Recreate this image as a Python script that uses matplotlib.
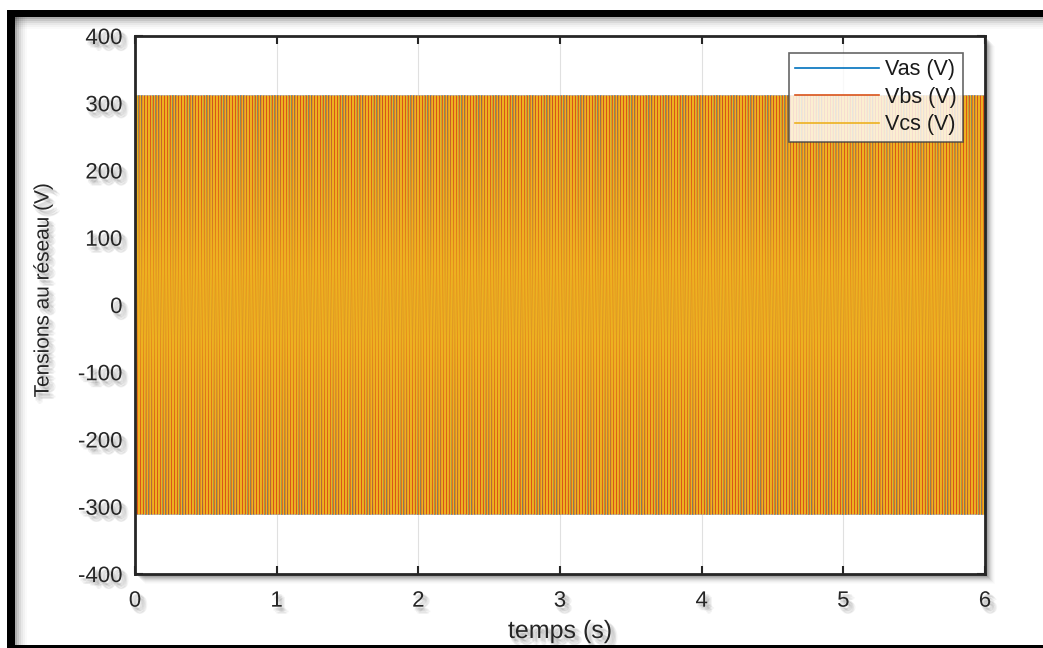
import numpy as np
import matplotlib
matplotlib.use("Agg")
import matplotlib.pyplot as plt
import matplotlib.patheffects as pe
from matplotlib.patches import Rectangle

# ---- data (three-phase grid voltages) ----
AMPLITUDE = 311.0          # V peak
FREQUENCY = 50.0           # Hz
T_END = 6.0                # s
T_STEP = 1e-4              # s
PHASES_DEG = [0.0, -120.0, 120.0]
SERIES_LABELS = ["Vas (V)", "Vbs (V)", "Vcs (V)"]
X_TICKS = [0, 1, 2, 3, 4, 5, 6]
Y_TICKS = [-400, -300, -200, -100, 0, 100, 200, 300, 400]
X_LABEL = "temps (s)"
Y_LABEL = "Tensions au réseau (V)"

COLORS = ["#0072BD", "#D95319", "#EDB120"]

plt.rcParams['font.family'] = ['Liberation Sans', 'DejaVu Sans']
plt.rcParams['axes.unicode_minus'] = False

W, H = 1043, 648
fig = plt.figure(figsize=(W / 100, H / 100), dpi=100)
fig.patch.set_facecolor("white")

def fx(px):
    return px / W

def fy(py):
    return 1 - py / H

# axes placement
ax_l, ax_r, ax_t, ax_b = 135, 985, 36, 574
AX_W, AX_H = ax_r - ax_l, ax_b - ax_t
ax = fig.add_axes([fx(ax_l), fy(ax_b), AX_W / W, AX_H / H])

# soft shadow behind axes
for i, a in enumerate([0.10, 0.09, 0.08, 0.07, 0.05, 0.04, 0.03, 0.02, 0.015]):
    off = 2 + i
    fig.patches.append(Rectangle((fx(ax_l + off), fy(ax_b + off)),
                                 AX_W / W, AX_H / H,
                                 transform=fig.transFigure, facecolor="black",
                                 edgecolor="none", alpha=a, zorder=-5))

# outer black frame (top, left, bottom) with soft shadow
for i, a in enumerate([0.12, 0.09, 0.06, 0.04, 0.03, 0.02]):
    off = 2 + 2 * i
    fig.patches.append(Rectangle((fx(15), fy(17 + off)), 1, off / H,
                                 transform=fig.transFigure, facecolor="black",
                                 edgecolor="none", alpha=a, zorder=-6))
    fig.patches.append(Rectangle((fx(15), 0), off / W, fy(17),
                                 transform=fig.transFigure, facecolor="black",
                                 edgecolor="none", alpha=a, zorder=-6))
fig.patches.append(Rectangle((fx(7), fy(17)), 1, 7 / H, transform=fig.transFigure,
                             facecolor="black", edgecolor="none", zorder=10))
fig.patches.append(Rectangle((fx(7), 0), 8 / W, fy(10), transform=fig.transFigure,
                             facecolor="black", edgecolor="none", zorder=10))
fig.patches.append(Rectangle((fx(7), 0), 1, 3 / H, transform=fig.transFigure,
                             facecolor="black", edgecolor="none", zorder=10))

t = np.arange(0.0, T_END + T_STEP / 2, T_STEP)
for ph, lab, col in zip(PHASES_DEG, SERIES_LABELS, COLORS):
    v = AMPLITUDE * np.sin(2 * np.pi * FREQUENCY * t + np.deg2rad(ph))
    ax.plot(t, v, color=col, lw=0.9, label=lab)

ax.set_xlim(0, 6)
ax.set_ylim(-400, 400)
ax.set_xticks(X_TICKS)
ax.set_yticks(Y_TICKS)
ax.grid(True, color="#E0E0E0", lw=0.8)
ax.set_axisbelow(True)
ax.tick_params(direction="in", length=6, width=1.5, color="#262626",
               labelsize=16, labelcolor="#262626", top=True, right=True)
ax.tick_params(axis="x", pad=12)
ax.tick_params(axis="y", pad=9)
for s in ax.spines.values():
    s.set_color("#262626")
    s.set_linewidth(2.0)

# soft text shadow (several faint offset copies)
shadow = [pe.SimplePatchShadow(offset=(dx, dy), shadow_rgbFace="black", alpha=0.045)
          for dx, dy in [(1, -2), (2, -2), (3, -3), (2, -4), (4, -3), (3, -5),
                         (4, -5), (5, -4), (1, -3), (3, -2)]] + [pe.Normal()]
for lab in ax.get_xticklabels() + ax.get_yticklabels():
    lab.set_path_effects(shadow)

ax.set_xlabel(X_LABEL, fontsize=18, color="#262626", path_effects=shadow, va="top")
ax.xaxis.set_label_coords(0.5, -(619 - ax_b) / AX_H)
ax.set_ylabel(Y_LABEL, fontsize=15, color="#262626", path_effects=shadow, va="center")
ax.yaxis.set_label_coords(-(ax_l - 43) / AX_W, (ax_b - 290) / AX_H)

leg = ax.legend(loc="upper right",
                bbox_to_anchor=((963 - ax_l) / AX_W, (ax_b - 53) / AX_H),
                fontsize=15.5, frameon=True, fancybox=False, edgecolor="#404040",
                handlelength=3.9, handletextpad=0.25, borderpad=0.3,
                labelspacing=0.3, borderaxespad=0)
leg.get_frame().set_linewidth(1.2)
for line in leg.get_lines():
    line.set_linewidth(1.2)
for txt in leg.get_texts():
    txt.set_color("#1a1a1a")

fig.savefig("out.png", dpi=100)
